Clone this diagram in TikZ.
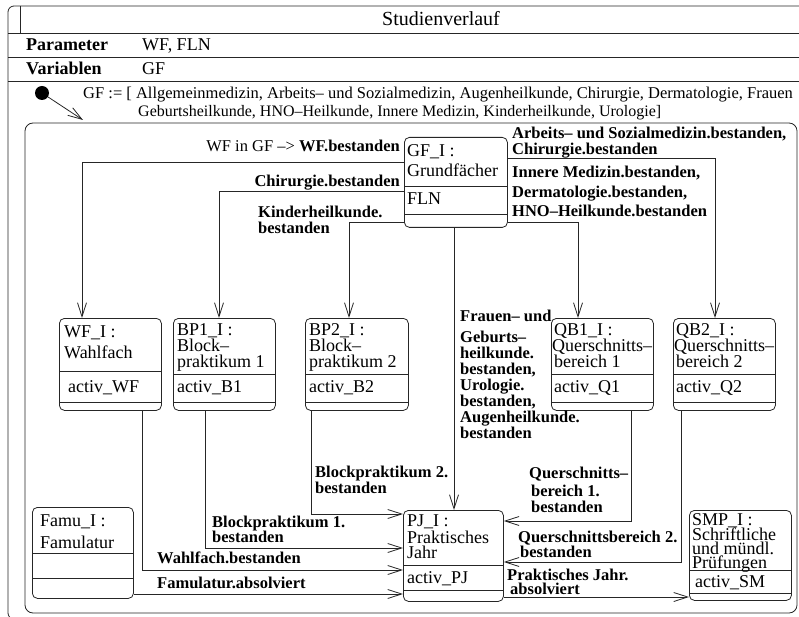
\documentclass[tikz,border=0pt]{standalone}
\usepackage{fontspec}
\setmainfont{Liberation Serif}
\usetikzlibrary{arrows.meta}
\tikzset{
  ln/.style={line width=0.8pt, draw=black!85},
  arr/.style={ln, -{Straight Barb[length=14pt,width=9pt]}},
  sbox/.style={ln, rounded corners=5pt, inner sep=0, anchor=north west},
  rtxt/.style={inner sep=0, anchor=base west, font=\fontsize{18}{18}\selectfont},
  hbold/.style={inner sep=0, anchor=base west, font=\fontsize{18}{18}\selectfont\bfseries},
  gtxt/.style={inner sep=0, anchor=base west, font=\fontsize{16.5}{16}\selectfont},
  lbl/.style={inner sep=0, anchor=base west, font=\fontsize{16.5}{16}\selectfont\bfseries},
}
\begin{document}
\begin{tikzpicture}[x=1pt,y=-1pt]
\useasboundingbox (0,0) rectangle (799,617);
% outer frame and header
\draw[ln, rounded corners=6pt] (830,619) -- (8,619) -- (8,6) -- (830,6);
\draw[ln] (20,6) -- (20,33);
\draw[ln] (8,33) -- (830,33);
\draw[ln] (8,57) -- (830,57);
\draw[ln] (8,81) -- (830,81);
\node[inner sep=0, anchor=base, font=\fontsize{20}{20}\selectfont] (title) at (441,26) {Studienverlauf};
\node[hbold] (par) at (26,51) {Parameter};
\node[rtxt] (parv) at (142,51) {WF, FLN};
\node[hbold] (var) at (26,75) {Variablen};
\node[rtxt] (varv) at (142,75) {GF};
\node[gtxt] (gfa) at (83,99) {GF := [ Allgemeinmedizin, Arbeits– und Sozialmedizin, Augenheilkunde, Chirurgie, Dermatologie, Frauen};
\node[gtxt, font=\fontsize{16}{16}\selectfont] (gfb) at (138,117) {Geburtsheilkunde, HNO–Heilkunde, Innere Medizin, Kinderheilkunde, Urologie]};
% initial state
\node[circle, fill=black, inner sep=0, minimum size=14pt] (init) at (42,93) {};
\coordinate (initend) at (83,120);
\draw[arr] (init) -- (initend);
% inner frame
\draw[ln, rounded corners=8pt] (25,123) rectangle (797,613);
% state boxes
\node[sbox, minimum width=103pt, minimum height=90pt] (gf) at (404,137) {};
\draw[ln] (gf.west |- 0,186) -- (gf.east |- 0,186);
\draw[ln] (gf.west |- 0,214) -- (gf.east |- 0,214);
\node[rtxt] (gft1) at (407,157) {GF\_I :};
\node[rtxt] (gft2) at (407,177) {Grundfächer};
\node[rtxt] (gft3) at (407,205) {FLN};

\node[sbox, minimum width=102pt, minimum height=92pt] (wf) at (59,318) {};
\draw[ln] (wf.west |- 0,371) -- (wf.east |- 0,371);
\draw[ln] (wf.west |- 0,402) -- (wf.east |- 0,402);
\node[rtxt] (wft1) at (64,337) {WF\_I :};
\node[rtxt] (wft2) at (64,358) {Wahlfach};
\node[rtxt] (wft3) at (68,392) {activ\_WF};

\node[sbox, minimum width=102pt, minimum height=92pt] (bp1) at (173,318) {};
\draw[ln] (bp1.west |- 0,374) -- (bp1.east |- 0,374);
\draw[ln] (bp1.west |- 0,402) -- (bp1.east |- 0,402);
\node[rtxt] (bp1t1) at (177,335) {BP1\_I :};
\node[rtxt] (bp1t2) at (177,351) {Block–};
\node[rtxt] (bp1t3) at (177,367) {praktikum 1};
\node[rtxt] (bp1t4) at (177,392) {activ\_B1};

\node[sbox, minimum width=103pt, minimum height=92pt] (bp2) at (305,318) {};
\draw[ln] (bp2.west |- 0,374) -- (bp2.east |- 0,374);
\draw[ln] (bp2.west |- 0,402) -- (bp2.east |- 0,402);
\node[rtxt] (bp2t1) at (309,335) {BP2\_I :};
\node[rtxt] (bp2t2) at (309,351) {Block–};
\node[rtxt] (bp2t3) at (309,367) {praktikum 2};
\node[rtxt] (bp2t4) at (309,392) {activ\_B2};

\node[sbox, minimum width=102pt, minimum height=92pt] (qb1) at (551,318) {};
\draw[ln] (qb1.west |- 0,374) -- (qb1.east |- 0,374);
\draw[ln] (qb1.west |- 0,402) -- (qb1.east |- 0,402);
\node[rtxt] (qb1t1) at (554,335) {QB1\_I :};
\node[rtxt] (qb1t2) at (552,351) {Querschnitts–};
\node[rtxt] (qb1t3) at (554,367) {bereich 1};
\node[rtxt] (qb1t4) at (554,392) {activ\_Q1};

\node[sbox, minimum width=102pt, minimum height=92pt] (qb2) at (673,318) {};
\draw[ln] (qb2.west |- 0,374) -- (qb2.east |- 0,374);
\draw[ln] (qb2.west |- 0,402) -- (qb2.east |- 0,402);
\node[rtxt] (qb2t1) at (676,335) {QB2\_I :};
\node[rtxt] (qb2t2) at (674,351) {Querschnitts–};
\node[rtxt] (qb2t3) at (676,367) {bereich 2};
\node[rtxt] (qb2t4) at (676,392) {activ\_Q2};

\node[sbox, minimum width=101pt, minimum height=91pt] (famu) at (32,507) {};
\draw[ln] (famu.west |- 0,553) -- (famu.east |- 0,553);
\draw[ln] (famu.west |- 0,578) -- (famu.east |- 0,578);
\node[rtxt] (famut1) at (40,526) {Famu\_I :};
\node[rtxt] (famut2) at (40,548) {Famulatur};

\node[sbox, minimum width=100pt, minimum height=91pt] (pj) at (403,510) {};
\draw[ln] (pj.west |- 0,565) -- (pj.east |- 0,565);
\draw[ln] (pj.west |- 0,590) -- (pj.east |- 0,590);
\node[rtxt] (pjt1) at (407,526) {PJ\_I :};
\node[rtxt] (pjt2) at (407,543) {Praktisches};
\node[rtxt] (pjt3) at (407,558) {Jahr};
\node[rtxt] (pjt4) at (407,583) {activ\_PJ};

\node[sbox, minimum width=102pt, minimum height=90pt] (smp) at (689,510) {};
\draw[ln] (smp.west |- 0,570) -- (smp.east |- 0,570);
\draw[ln] (smp.west |- 0,593) -- (smp.east |- 0,593);
\node[rtxt] (smpt1) at (692,525) {SMP\_I :};
\node[rtxt] (smpt2) at (692,540) {Schriftliche};
\node[rtxt] (smpt3) at (692,554) {und mündl.};
\node[rtxt] (smpt4) at (692,568) {Prüfungen};
\node[rtxt] (smpt5) at (695,587) {activ\_SM};

% connectors
\draw[arr] (gf.west |- 0,162) -| (wf.north -| 82,0);
\draw[arr] (gf.west |- 0,191) -| (bp1.north -| 219,0);
\draw[arr] (gf.west |- 0,222) -| (bp2.north -| 349,0);
\draw[arr] (gf.east |- 0,158) -| (qb2.north -| 715,0);
\draw[arr] (gf.east |- 0,222) -| (qb1.north -| 578,0);
\draw[arr] (gf.south -| 454,0) -- (pj.north -| 454,0);
\draw[arr] (bp2.south -| 311,0) |- (pj.west |- 0,514);
\draw[arr] (bp1.south -| 205,0) |- (pj.west |- 0,548);
\draw[arr] (wf.south -| 142,0) |- (pj.west |- 0,570);
\draw[arr] (famu.east |- 0,594) -- (pj.west |- 0,594);
\draw[arr] (qb1.south -| 631,0) |- (pj.east |- 0,521);
\draw[arr] (qb2.south -| 681,0) |- (pj.east |- 0,562);
\draw[arr] (pj.east |- 0,597) -- (smp.west |- 0,597);

% labels
\node[gtxt, anchor=base east] (l1) at (400,152) {WF in GF –> \textbf{WF.bestanden}};
\node[lbl, anchor=base east] (l2) at (400,187) {Chirurgie.bestanden};
\node[lbl] (l3a) at (258,218) {Kinderheilkunde.};
\node[lbl] (l3b) at (258,234) {bestanden};
\node[lbl] (r1a) at (512,139) {Arbeits– und Sozialmedizin.bestanden,};
\node[lbl] (r1b) at (512,155) {Chirurgie.bestanden};
\node[lbl] (r2a) at (512,178) {Innere Medizin.bestanden,};
\node[lbl] (r2b) at (512,198) {Dermatologie.bestanden,};
\node[lbl] (r2c) at (512,217) {HNO–Heilkunde.bestanden};
\node[lbl] (f1) at (460,321) {Frauen– und};
\node[lbl] (f2) at (460,342) {Geburts–};
\node[lbl] (f3) at (460,358) {heilkunde.};
\node[lbl] (f4) at (460,374) {bestanden,};
\node[lbl] (f5) at (460,390) {Urologie.};
\node[lbl] (f6) at (460,406) {bestanden,};
\node[lbl] (f7) at (460,422) {Augenheilkunde.};
\node[lbl] (f8) at (460,438) {bestanden};
\node[lbl] (b2a) at (315,477) {Blockpraktikum 2.};
\node[lbl] (b2b) at (315,493) {bestanden};
\node[lbl] (b1a) at (212,527) {Blockpraktikum 1.};
\node[lbl] (b1b) at (212,542) {bestanden};
\node[lbl] (wfl) at (157,563) {Wahlfach.bestanden};
\node[lbl] (fal) at (157,588) {Famulatur.absolviert};
\node[lbl] (q1a) at (529,478) {Querschnitts–};
\node[lbl] (q1b) at (531,496) {bereich 1.};
\node[lbl] (q1c) at (531,512) {bestanden};
\node[lbl] (q2a) at (518,542) {Querschnittsbereich 2.};
\node[lbl] (q2b) at (520,557) {bestanden};
\node[lbl] (pja) at (507,580) {Praktisches Jahr.};
\node[lbl] (pjb) at (510,594) {absolviert};
\end{tikzpicture}
\end{document}
